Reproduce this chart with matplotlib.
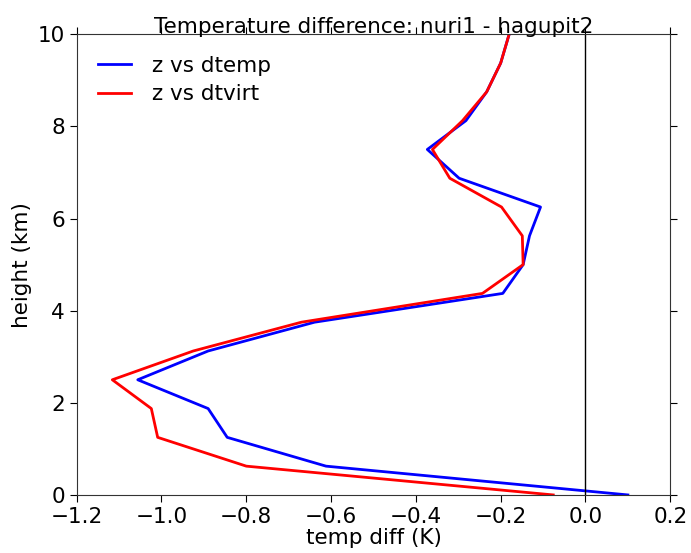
import numpy as np
import matplotlib.pyplot as plt

# heights (km), 0.625 km levels
z = [0.0, 0.625, 1.25, 1.875, 2.5, 3.125, 3.75, 4.375, 5.0,
     5.625, 6.25, 6.875, 7.5, 8.125, 8.75, 9.375, 10.0]

dtemp = [0.10, -0.612, -0.845, -0.89, -1.056, -0.89, -0.639, -0.195, -0.147,
         -0.132, -0.106, -0.298, -0.373, -0.282, -0.233, -0.20, -0.18]
dtvirt = [-0.076, -0.80, -1.009, -1.024, -1.116, -0.925, -0.67, -0.243, -0.147,
          -0.149, -0.198, -0.32, -0.361, -0.29, -0.233, -0.20, -0.18]

fs = 15.5
plt.rcParams['font.size'] = fs

fig = plt.figure(figsize=(6.91, 5.53), dpi=100)
ax = fig.add_axes([0.111, 0.105, 0.859, 0.833])

ax.plot(dtemp, z, color='blue', lw=2, label='z vs dtemp')
ax.plot(dtvirt, z, color='red', lw=2, label='z vs dtvirt')
ax.axvline(0, color='black', lw=1)

ax.set_xlim(-1.2, 0.2)
ax.set_ylim(0, 10)
ax.set_xticks(np.arange(-1.2, 0.21, 0.2))
ax.set_yticks([0, 2, 4, 6, 8, 10])
ax.tick_params(direction='out', length=5, top=True, right=True,
               labeltop=False, labelright=False, labelsize=fs)
for s in ax.spines.values():
    s.set_color('#333333')

ax.set_xlabel('temp diff (K)', fontsize=fs, labelpad=1)
ax.set_ylabel('height (km)', fontsize=fs)
ax.set_title('Temperature difference: nuri1 - hagupit2', fontsize=fs, pad=1)
ax.legend(loc='upper left', frameon=False, fontsize=fs, handlelength=1.5,
          handletextpad=1.0, labelspacing=0.4, borderaxespad=0.6)

fig.savefig('out.png', dpi=100)
